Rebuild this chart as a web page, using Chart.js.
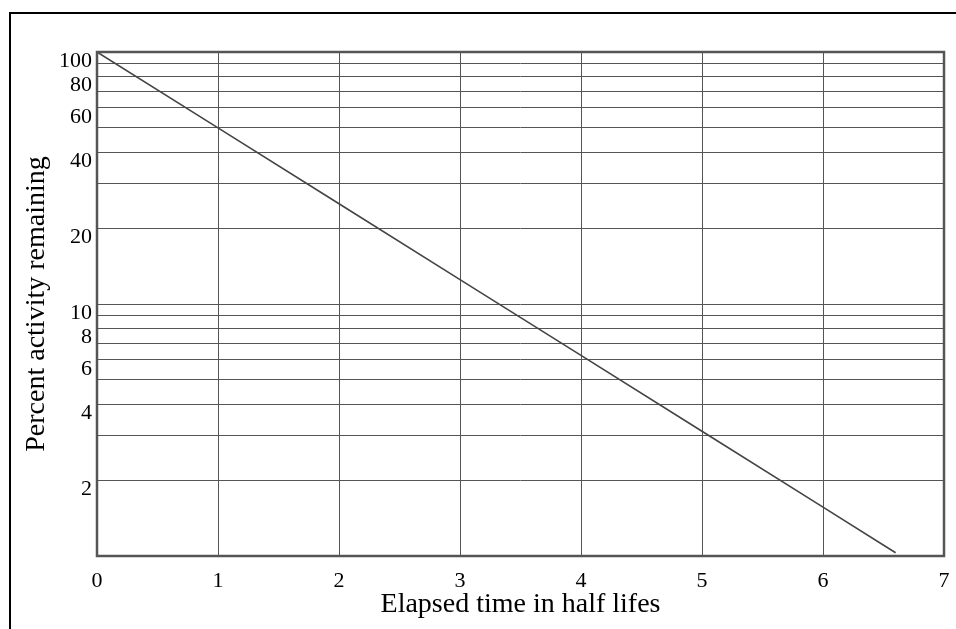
<!DOCTYPE html>
<html>
<head>
<meta charset="utf-8">
<script src="https://cdn.jsdelivr.net/npm/chart.js@4/dist/chart.umd.min.js"></script>
<style>
  html, body { margin: 0; padding: 0; background: #fff; }
  #wrap { position: relative; width: 956px; height: 629px; overflow: hidden; }
  #frame { position: absolute; left: 9px; top: 12px; width: 2000px; height: 2000px; border: 2px solid #000; }
  #chart { position: absolute; left: 0; top: 0; }
</style>
</head>
<body>
<div id="wrap">
  <div id="frame"></div>
  <canvas id="chart" width="956" height="629"></canvas>
</div>
<script>
// half lifes elapsed and percent activity left
const halfLifes = [0, 1, 2, 3, 4, 5, 6, 6.6];
const percentLeft = [100, 50, 25, 12.5, 6.25, 3.125, 1.5625, 1.03];

const xTicks = [0, 1, 2, 3, 4, 5, 6, 7];
const yGrid = [1, 2, 3, 4, 5, 6, 7, 8, 9, 10, 20, 30, 40, 50, 60, 70, 80, 90, 100];
const yLabels = [2, 4, 6, 8, 10, 20, 40, 60, 80, 100];

const serif = 'Liberation Serif';

const plotBorder = {
    id: 'plotBorder',
    afterDraw: function (chart) {
        const a = chart.chartArea;
        const ctx = chart.ctx;
        ctx.save();
        ctx.strokeStyle = '#555';
        ctx.lineWidth = 2.5;
        ctx.strokeRect(a.left, a.top, a.right - a.left, a.bottom - a.top);
        ctx.restore();
    }
};

new Chart(document.getElementById('chart'), {
    type: 'line',
    data: {
        datasets: [{
            data: halfLifes.map((x, i) => ({ x: x, y: percentLeft[i] })),
            borderColor: '#444',
            borderWidth: 1.6,
            pointRadius: 0,
            tension: 0,
            fill: false
        }]
    },
    options: {
        responsive: false,
        animation: false,
        layout: { padding: { left: 0, top: 52, right: 12, bottom: 0 } },
        plugins: {
            legend: { display: false },
            tooltip: { enabled: false }
        },
        scales: {
            x: {
                type: 'linear',
                min: 0,
                max: 7,
                afterBuildTicks: s => { s.ticks = xTicks.map(v => ({ value: v })); },
                afterFit: s => { s.height = 73; s.paddingLeft = 0; s.paddingRight = 0; },
                grid: { color: '#555', lineWidth: 1, drawTicks: false },
                border: { display: false },
                ticks: { color: '#000', padding: 12, font: { family: serif, size: 22 } },
                title: {
                    display: true,
                    text: 'Elapsed time in half lifes',
                    color: '#000',
                    padding: { top: 0, bottom: 8 },
                    font: { family: serif, size: 28 }
                }
            },
            y: {
                type: 'logarithmic',
                min: 1,
                max: 100,
                afterBuildTicks: s => { s.ticks = yGrid.map(v => ({ value: v })); },
                afterFit: s => { s.width = 97; },
                grid: { color: '#555', lineWidth: 1, drawTicks: false },
                border: { display: false },
                ticks: {
                    color: '#000',
                    padding: 5,
                    autoSkip: false,
                    labelOffset: 9,
                    font: { family: serif, size: 22 },
                    callback: v => yLabels.includes(v) ? String(v) : ''
                },
                title: {
                    display: true,
                    text: 'Percent activity remaining',
                    color: '#000',
                    padding: { top: 20, bottom: 0 },
                    font: { family: serif, size: 28 }
                }
            }
        }
    },
    plugins: [plotBorder]
});
</script>
</body>
</html>
